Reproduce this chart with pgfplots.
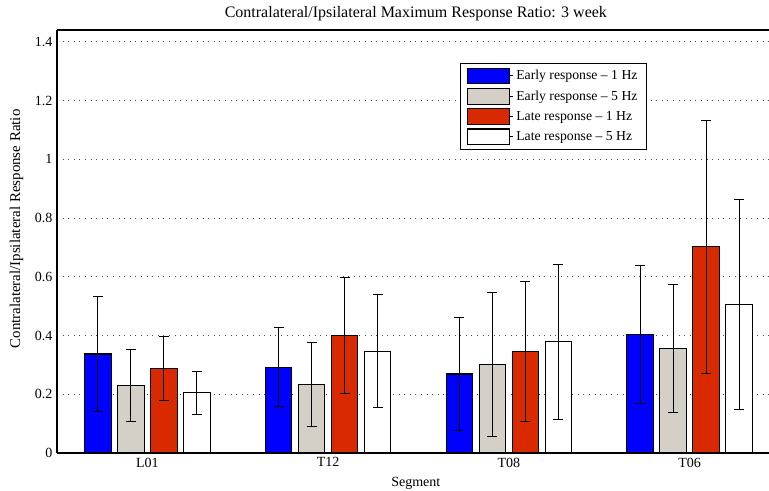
\documentclass[border=0pt]{standalone}
\usepackage{fontspec}
\setmainfont{Liberation Serif}
\usepackage{pgfplots}
\pgfplotsset{compat=1.18}
\definecolor{cblue}{RGB}{0,0,255}
\definecolor{cgray}{RGB}{212,208,200}
\definecolor{cred}{RGB}{216,41,0}
\pgfplotsset{
  mybar/.style={draw=black, line width=0.8pt,
    error bars/y dir=both, error bars/y explicit,
    error bars/error bar style={line width=0.6pt, black},
    error bars/error mark options={line width=0.6pt, black, mark size=3.75pt, rotate=90}},
}
\begin{document}
\begin{tikzpicture}
\begin{axis}[
  scale only axis, width=534pt, height=317.25pt,
  ybar=4.95pt, bar width=19.8pt,
  xmin=0.5, xmax=4.439, ymin=0, ymax=1.44,
  axis x line=box, axis y line=left, axis line style={-, line width=0.8pt},
  xtick={1,2,3,4}, xticklabels={L01,T12,T08,T06},
  ytick={0,0.2,0.4,0.6,0.8,1,1.2,1.4},
  ymajorgrids, grid style={black!70, line width=0.6pt, dash pattern=on 0.6pt off 3.6pt},
  major tick length=0pt,
  tick label style={font=\fontsize{10.5}{12}\selectfont},
  /pgf/number format/assume math mode=true,
  title={Contralateral/Ipsilateral Maximum Response Ratio: 3 week},
  title style={font=\fontsize{12}{14}\selectfont, at={(axis description cs:0.504,1)}, anchor=center, yshift=6pt},
  xlabel={Segment},
  xlabel style={font=\fontsize{10.5}{12}\selectfont, at={(axis description cs:0.504,0)}, anchor=center, yshift=-22.5pt},
  ylabel={Contralateral/Ipsilateral Response Ratio},
  ylabel style={font=\fontsize{11.2}{13}\selectfont, at={(axis description cs:-0.057,0.5296)}, anchor=center},
  legend image code/.code={\path (0pt,0pt) -- (34pt,0pt); \draw[#1, line width=0.8pt] (0pt,-5.9pt) rectangle (31.5pt,5.9pt);},
  legend style={at={(axis description cs:0.566,0.922)}, anchor=north west, draw=black, line width=0.8pt,
    font=\fontsize{10.3}{12}\selectfont, cells={anchor=west}, row sep=2.6pt, inner xsep=5pt, inner ysep=3pt},
]
\addplot[mybar, fill=cblue] coordinates {
  (1,0.337) +- (0,0.195)
  (2,0.292) +- (0,0.135)
  (3,0.269) +- (0,0.193)
  (4,0.404) +- (0,0.236)
};
\addlegendentry{Early response -- 1 Hz}
\addplot[mybar, fill=cgray] coordinates {
  (1,0.229) +- (0,0.122)
  (2,0.234) +- (0,0.143)
  (3,0.302) +- (0,0.245)
  (4,0.357) +- (0,0.218)
};
\addlegendentry{Early response -- 5 Hz}
\addplot[mybar, fill=cred] coordinates {
  (1,0.287) +- (0,0.109)
  (2,0.401) +- (0,0.197)
  (3,0.347) +- (0,0.238)
  (4,0.702) +- (0,0.431)
};
\addlegendentry{Late response -- 1 Hz}
\addplot[mybar, fill=white] coordinates {
  (1,0.205) +- (0,0.072)
  (2,0.347) +- (0,0.192)
  (3,0.379) +- (0,0.263)
  (4,0.505) +- (0,0.357)
};
\addlegendentry{Late response -- 5 Hz}
\end{axis}
\pgfresetboundingbox
\path[use as bounding box] ([xshift=-42.75pt,yshift=-28.5pt]current axis.south west) rectangle ([yshift=22.5pt]current axis.north east);
\end{tikzpicture}
\end{document}
